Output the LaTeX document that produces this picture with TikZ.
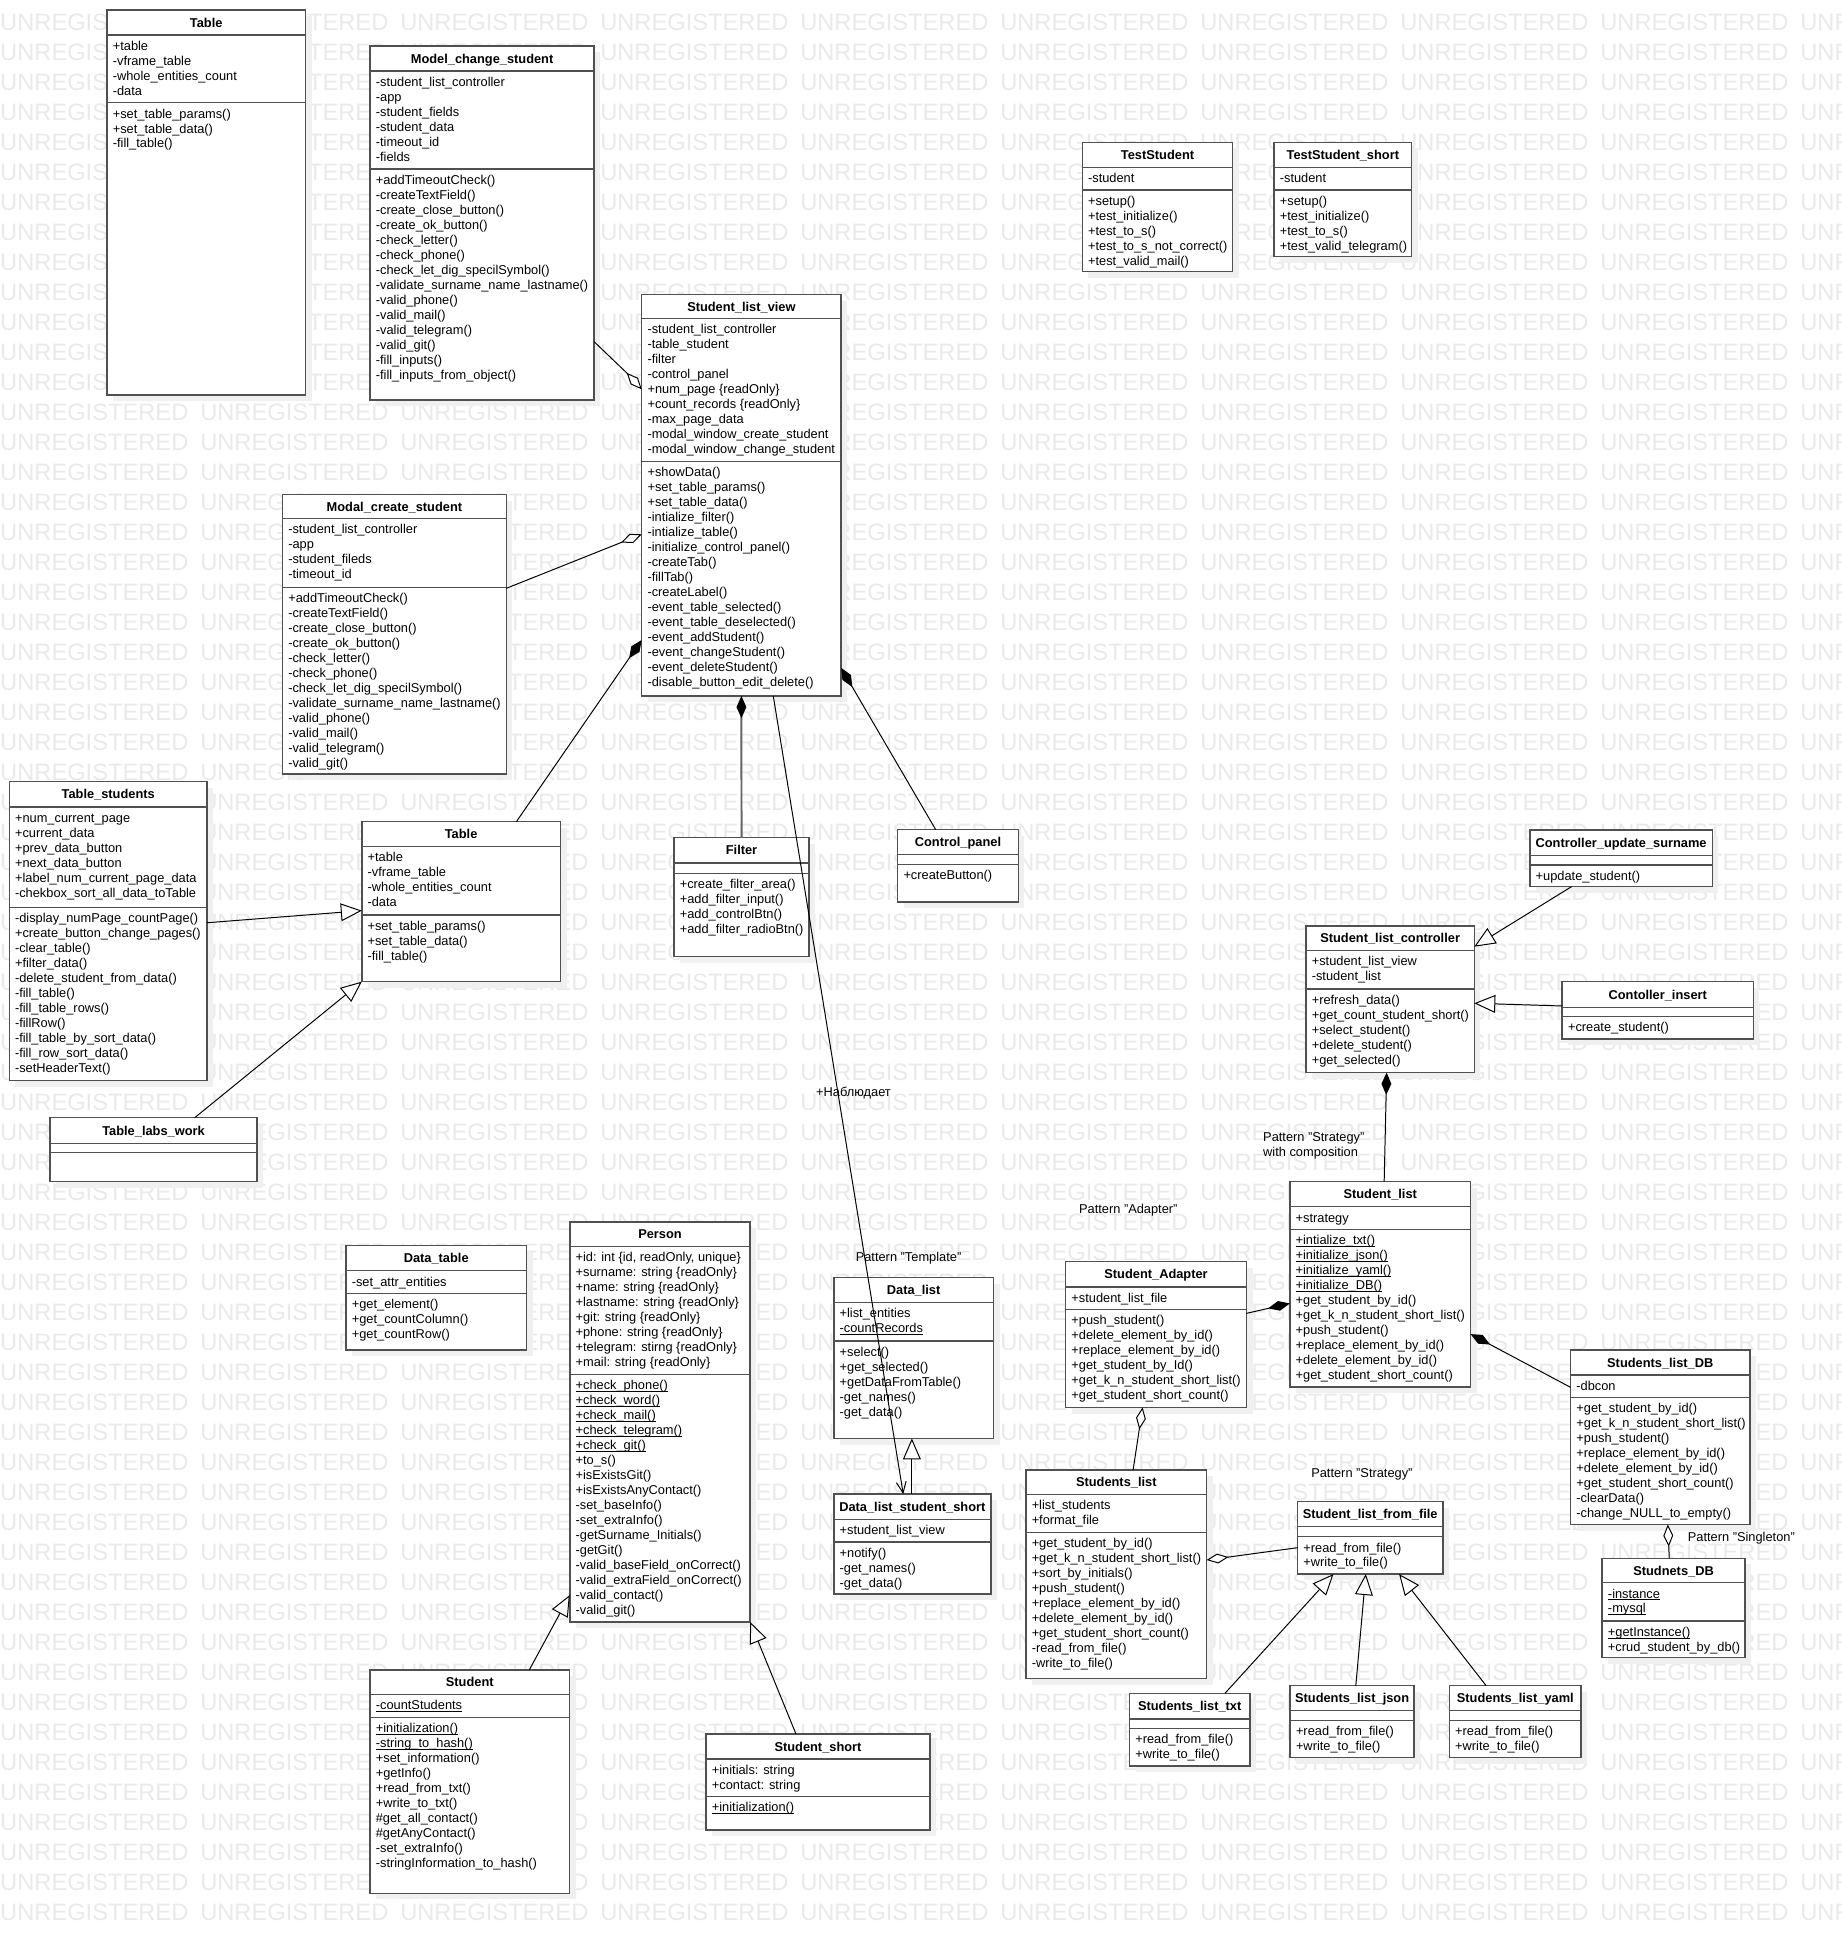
\documentclass[tikz,border=0pt]{standalone}
\usepackage{fontspec}
\setmainfont{Liberation Sans}
\usetikzlibrary{arrows.meta,calc}

\definecolor{boxc}{HTML}{505050}
\definecolor{wmc}{HTML}{EAEAEA}
\definecolor{shc}{HTML}{F0F0F0}

\newcommand\lns[1]{\vtop{\baselineskip=12.16pt\lineskip=0pt\lineskiplimit=-20pt\let\\\cr\halign{##\hfil\cr#1\crcr}}}
\newcommand\ul[1]{\setbox0=\hbox{#1}\rlap{\vrule width\wd0 height -1.15pt depth 1.85pt}\box0}

\newcommand\clsbox[7]{%
  \fill[shc] ({#2+5},{#3+5}) rectangle ({#4+5},{#5+5});
  \pgfmathsetmacro\bw{#4-#2}\pgfmathsetmacro\bh{#5-#3}
  \node[clsnode, minimum width=\bw pt, minimum height=\bh pt] (#1) at (#2,#3) {};
  \draw[sepl] (#2,#7) -- (#4,#7);
  \node[ttl] at ({(#2+#4)/2},{(#3+#7)/2+3.7}) {#6};
  \xdef\curL{#2}\xdef\curR{#4}%
}
\newcommand\compart[2]{%
  \draw[sepl] (\curL,#1) -- (\curR,#1);
  \node[txt] at (\curL+4.5,#1+12.4) {\lns{#2}};
}
\newcommand\emptysep[1]{\draw[sepl] (\curL,#1) -- (\curR,#1);}

\tikzset{
 clsnode/.style={draw=boxc, fill=white, line width=1.2pt, inner sep=0pt, outer sep=0pt, anchor=north west},
 sepl/.style={draw=boxc, line width=1.2pt},
 ttl/.style={anchor=base, inner sep=0pt, font=\fontsize{10.4}{12.16}\selectfont\bfseries},
 txt/.style={anchor=base west, inner sep=0pt, font=\fontsize{10.4}{12.16}\selectfont},
 wm/.style={anchor=west, inner sep=0pt, text=wmc, font=\fontsize{19.2}{20}\selectfont},
 conn/.style={line width=0.8pt, draw=black},
 gen/.style={conn, -{Triangle[length=17pt,width=14.5pt,fill=white]}},
 agg/.style={conn, -{Diamond[length=18pt,width=8pt,fill=white]}},
 comp/.style={conn, -{Diamond[length=18pt,width=8pt]}},
 compg/.style={line width=1.6pt, draw=black!60, -{Diamond[length=18pt,width=8pt,color=black]}},
 dep/.style={conn, -{Straight Barb[length=9pt,width=8pt]}},
}

\begin{document}
\begin{tikzpicture}[x=1pt,y=-1pt]
\useasboundingbox (0,0) rectangle (1493,1568.4);
\fill[white] (0,0) rectangle (1493,1568.4);

% watermark
\foreach \r in {0,...,63}{
  \foreach \c in {0,...,9}{
    \node[wm] at (\c*162.2, 18+\r*24.33) {UNREGISTERED};
  }
}

% ---------- classes ----------
\clsbox{tbltop}{86.8}{8.1}{247.7}{320.3}{Table}{28.4}
\compart{28.4}{+table\\-vframe\_table\\-whole\_entities\_count\\-data}
\compart{83.3}{+set\_table\_params()\\+set\_table\_data()\\-fill\_table()}

\clsbox{mcs}{300.1}{37.3}{481.8}{324.4}{Model\_change\_student}{57.6}
\compart{57.6}{-student\_list\_controller\\-app\\-student\_fields\\-student\_data\\-timeout\_id\\-fields}
\compart{137.1}{+addTimeoutCheck()\\-createTextField()\\-create\_close\_button()\\-create\_ok\_button()\\-check\_letter()\\-check\_phone()\\-check\_let\_dig\_specilSymbol()\\-validate\_surname\_name\_lastname()\\-valid\_phone()\\-valid\_mail()\\-valid\_telegram()\\-valid\_git()\\-fill\_inputs()\\-fill\_inputs\_from\_object()}

\clsbox{slv}{520.4}{238.7}{682.1}{564.4}{Student\_list\_view}{258.4}
\compart{258.4}{-student\_list\_controller\\-table\_student\\-filter\\-control\_panel\\+num\_page \{readOnly\}\\+count\_records \{readOnly\}\\-max\_page\_data\\-modal\_window\_create\_student\\-modal\_window\_change\_student}
\compart{374.4}{+showData()\\+set\_table\_params()\\+set\_table\_data()\\-intialize\_filter()\\-intialize\_table()\\-initialize\_control\_panel()\\-createTab()\\-fillTab()\\-createLabel()\\-event\_table\_selected()\\-event\_table\_deselected()\\-event\_addStudent()\\-event\_changeStudent()\\-event\_deleteStudent()\\-disable\_button\_edit\_delete()}

\clsbox{mcr}{229.1}{400.9}{410.6}{627.7}{Modal\_create\_student}{420.6}
\compart{420.6}{-student\_list\_controller\\-app\\-student\_fileds\\-timeout\_id}
\compart{476.3}{+addTimeoutCheck()\\-createTextField()\\-create\_close\_button()\\-create\_ok\_button()\\-check\_letter()\\-check\_phone()\\-check\_let\_dig\_specilSymbol()\\-validate\_surname\_name\_lastname()\\-valid\_phone()\\-valid\_mail()\\-valid\_telegram()\\-valid\_git()}

\clsbox{tstu}{877.7}{115.4}{999.7}{220.3}{TestStudent}{135.7}
\compart{135.7}{-student}
\compart{154.1}{+setup()\\+test\_initialize()\\+test\_to\_s()\\+test\_to\_s\_not\_correct()\\+test\_valid\_mail()}

\clsbox{tstus}{1033.2}{115.4}{1144.8}{208.2}{TestStudent\_short}{135.7}
\compart{135.7}{-student}
\compart{154.1}{+setup()\\+test\_initialize()\\+test\_to\_s()\\+test\_valid\_telegram()}

\clsbox{tstud}{7.5}{633.9}{168}{876.4}{Table\_students}{654.5}
\compart{654.5}{+num\_current\_page\\+current\_data\\+prev\_data\_button\\+next\_data\_button\\+label\_num\_current\_page\_data\\-chekbox\_sort\_all\_data\_toTable}
\compart{735.8}{-display\_numPage\_countPage()\\+create\_button\_change\_pages()\\-clear\_table()\\+filter\_data()\\-delete\_student\_from\_data()\\-fill\_table()\\-fill\_table\_rows()\\-fillRow()\\-fill\_table\_by\_sort\_data()\\-fill\_row\_sort\_data()\\-setHeaderText()}

\clsbox{tblmid}{293.4}{666.3}{454.5}{796.1}{Table}{686.6}
\compart{686.6}{+table\\-vframe\_table\\-whole\_entities\_count\\-data}
\compart{742}{+set\_table\_params()\\+set\_table\_data()\\-fill\_table()}

\clsbox{tlw}{40.5}{906.4}{208.5}{958.3}{Table\_labs\_work}{927.2}
\emptysep{934.8}

\clsbox{filt}{546.6}{679.2}{656.1}{775.6}{Filter}{699.8}
\compart{708.2}{+create\_filter\_area()\\+add\_filter\_input()\\+add\_controlBtn()\\+add\_filter\_radioBtn()}

\clsbox{cpan}{728}{672.8}{825.8}{731.6}{Control\_panel}{692.9}
\compart{701}{+createButton()}

\clsbox{cus}{1240.7}{673.1}{1388.6}{719}{Controller\_update\_surname}{693.9}
\compart{701.5}{+update\_student()}

\clsbox{slc}{1059.1}{750.9}{1195.6}{869.9}{Student\_list\_controller}{770.9}
\compart{770.9}{+student\_list\_view\\-student\_list}
\compart{802}{+refresh\_data()\\+get\_count\_student\_short()\\+select\_student()\\+delete\_student()\\+get\_selected()}

\clsbox{cins}{1266.9}{796.1}{1421.8}{842.6}{Contoller\_insert}{816.9}
\compart{824.5}{+create\_student()}

\clsbox{dtab}{280.6}{1010.2}{426.9}{1094.8}{Data\_table}{1030.5}
\compart{1030.5}{-set\_attr\_entities}
\compart{1048.9}{+get\_element()\\+get\_countColumn()\\+get\_countRow()}

\clsbox{pers}{462.1}{991}{608.4}{1315.4}{Person}{1011}
\compart{1011}{+id: int \{id, readOnly, unique\}\\+surname: string \{readOnly\}\\+name: string \{readOnly\}\\+lastname: string \{readOnly\}\\+git: string \{readOnly\}\\+phone: string \{readOnly\}\\+telegram: stirng \{readOnly\}\\+mail: string \{readOnly\}}
\compart{1114.8}{\ul{+check\_phone()}\\\ul{+check\_word()}\\\ul{+check\_mail()}\\\ul{+check\_telegram()}\\\ul{+check\_git()}\\+to\_s()\\+isExistsGit()\\+isExistsAnyContact()\\-set\_baseInfo()\\-set\_extraInfo()\\-getSurname\_Initials()\\-getGit()\\-valid\_baseField\_onCorrect()\\-valid\_extraField\_onCorrect()\\-valid\_contact()\\-valid\_git()}

\clsbox{dlist}{676.2}{1036.2}{805.6}{1166.5}{Data\_list}{1056.4}
\compart{1056.4}{+list\_entities\\\ul{-countRecords}}
\compart{1087.5}{+select()\\+get\_selected()\\+getDataFromTable()\\-get\_names()\\-get\_data()}

\clsbox{dlss}{676.2}{1211.6}{803.5}{1292.7}{Data\_list\_student\_short}{1232.2}
\compart{1232.2}{+student\_list\_view}
\compart{1250.3}{+notify()\\-get\_names()\\-get\_data()}

\clsbox{stud}{300.1}{1354.3}{461.8}{1535.4}{Student}{1374.1}
\compart{1374.1}{\ul{-countStudents}}
\compart{1392.7}{\ul{+initialization()}\\\ul{-string\_to\_hash()}\\+set\_information()\\+getInfo()\\+read\_from\_txt()\\+write\_to\_txt()\\\#get\_all\_contact()\\\#getAnyContact()\\-set\_extraInfo()\\-stringInformation\_to\_hash()}

\clsbox{stsh}{572.6}{1406.2}{754.1}{1484.1}{Student\_short}{1426.5}
\compart{1426.5}{+initials: string\\+contact: string}
\compart{1457}{\ul{+initialization()}}

\clsbox{slist}{1046}{958.3}{1192.6}{1124.6}{Student\_list}{978.6}
\compart{978.6}{+strategy}
\compart{997}{\ul{+intialize\_txt()}\\\ul{+initialize\_json()}\\\ul{+initialize\_yaml()}\\\ul{+initialize\_DB()}\\+get\_student\_by\_id()\\+get\_k\_n\_student\_short\_list()\\+push\_student()\\+replace\_element\_by\_id()\\+delete\_element\_by\_id()\\+get\_student\_short\_count()}

\clsbox{sadap}{864.2}{1023.2}{1010.8}{1141.3}{Student\_Adapter}{1043.5}
\compart{1043.5}{+student\_list\_file}
\compart{1061.9}{+push\_student()\\+delete\_element\_by\_id()\\+replace\_element\_by\_id()\\+get\_student\_by\_Id()\\+get\_k\_n\_student\_short\_list()\\+get\_student\_short\_count()}

\clsbox{sldb}{1273.7}{1094.8}{1419.1}{1236.3}{Students\_list\_DB}{1115.1}
\compart{1115.1}{-dbcon}
\compart{1133.2}{+get\_student\_by\_id()\\+get\_k\_n\_student\_short\_list()\\+push\_student()\\+replace\_element\_by\_id()\\+delete\_element\_by\_id()\\+get\_student\_short\_count()\\-clearData()\\-change\_NULL\_to\_empty()}

\clsbox{stlist}{832}{1192.1}{978.5}{1361.1}{Students\_list}{1211.8}
\compart{1211.8}{+list\_students\\+format\_file}
\compart{1242.7}{+get\_student\_by\_id()\\+get\_k\_n\_student\_short\_list()\\+sort\_by\_initials()\\+push\_student()\\+replace\_element\_by\_id()\\+delete\_element\_by\_id()\\+get\_student\_short\_count()\\-read\_from\_file()\\-write\_to\_file()}

\clsbox{slff}{1052.3}{1217.8}{1170.1}{1276.5}{Student\_list\_from\_file}{1238.1}
\compart{1246.2}{+read\_from\_file()\\+write\_to\_file()}

\clsbox{sltxt}{916}{1373.2}{1013.6}{1432.2}{Students\_list\_txt}{1394}
\compart{1401.6}{+read\_from\_file()\\+write\_to\_file()}

\clsbox{sljson}{1046.3}{1367}{1146.7}{1425.4}{Students\_list\_json}{1387.3}
\compart{1395.4}{+read\_from\_file()\\+write\_to\_file()}

\clsbox{slyaml}{1175.4}{1367}{1282.3}{1425.4}{Students\_list\_yaml}{1387.3}
\compart{1395.4}{+read\_from\_file()\\+write\_to\_file()}

\clsbox{sdb}{1299.3}{1263.7}{1415}{1344.3}{Studnets\_DB}{1283.5}
\compart{1283.5}{\ul{-instance}\\\ul{-mysql}}
\compart{1314.6}{\ul{+getInstance()}\\+crud\_student\_by\_db()}

% ---------- labels ----------
\node[txt] (lobs) at (661.7,889.1) {+Наблюдает};
\node[txt] (ltpl) at (693.8,1022.8) {Pattern "Template"};
\node[txt] (lstr1) at (1024.2,925.5) {\lns{Pattern "Strategy"\\with composition}};
\node[txt] (ladp) at (874.9,983.9) {Pattern "Adapter"};
\node[txt] (lstr2) at (1063.2,1198.1) {Pattern "Strategy"};
\node[txt] (lsing) at (1368.6,1249.9) {Pattern "Singleton"};

% ---------- connectors ----------
\draw[agg] ($(mcs.north east)+(0,239.8)$) -- ($(slv.north west)+(0,77)$);
\draw[agg] ($(mcr.north east)+(0,76.2)$) -- ($(slv.north west)+(0,194.6)$);
\draw[comp] ($(tblmid.north west)+(125.4,0)$) -- ($(slv.north west)+(0,280.3)$);
\draw[compg] (filt.north) -- (slv.south);
\draw[comp] ($(cpan.north west)+(30.8,0)$) -- ($(slv.north east)+(0,302.9)$);
\draw[dep] ($(slv.south west)+(106.7,0)$) -- ($(dlss.north west)+(56.3,0)$);
\draw[gen] ($(tstud.north east)+(0,114.4)$) -- ($(tblmid.north west)+(0,72.2)$);
\draw[gen] ($(tlw.north west)+(117.4,0)$) -- (tblmid.south west);
\draw[gen] ($(cus.south west)+(33.8,0)$) -- ($(slc.north east)+(0,16.8)$);
\draw[gen] ($(cins.north west)+(0,19.7)$) -- ($(slc.north east)+(0,62.7)$);
\draw[comp] ($(slist.north west)+(76.5,0)$) -- ($(slc.south west)+(65.4,0)$);
\draw[comp] ($(sadap.north east)+(0,41.9)$) -- ($(slist.north west)+(0,98.7)$);
\draw[comp] ($(sldb.north west)+(0,30.3)$) -- ($(slist.north east)+(0,123.6)$);
\draw[agg] ($(stlist.north west)+(86.9,0)$) -- ($(sadap.south west)+(62.4,0)$);
\draw[agg] ($(slff.north west)+(0,37.3)$) -- ($(stlist.north east)+(0,73)$);
\draw[gen] ($(sltxt.north west)+(77.4,0)$) -- ($(slff.south west)+(29.1,0)$);
\draw[gen] ($(sljson.north west)+(53.2,0)$) -- ($(slff.south west)+(55.3,0)$);
\draw[gen] ($(slyaml.north west)+(29.8,0)$) -- ($(slff.south west)+(82.3,0)$);
\draw[agg] ($(sdb.north west)+(54.4,0)$) -- ($(sldb.south west)+(78.8,0)$);
\draw[gen] ($(dlss.north west)+(63.3,0)$) -- ($(dlist.south west)+(63.3,0)$);
\draw[gen] ($(stud.north west)+(129.1,0)$) -- ($(pers.north west)+(0,302.5)$);
\draw[gen] ($(stsh.north west)+(72.9,0)$) -- (pers.south east);
\end{tikzpicture}
\end{document}
